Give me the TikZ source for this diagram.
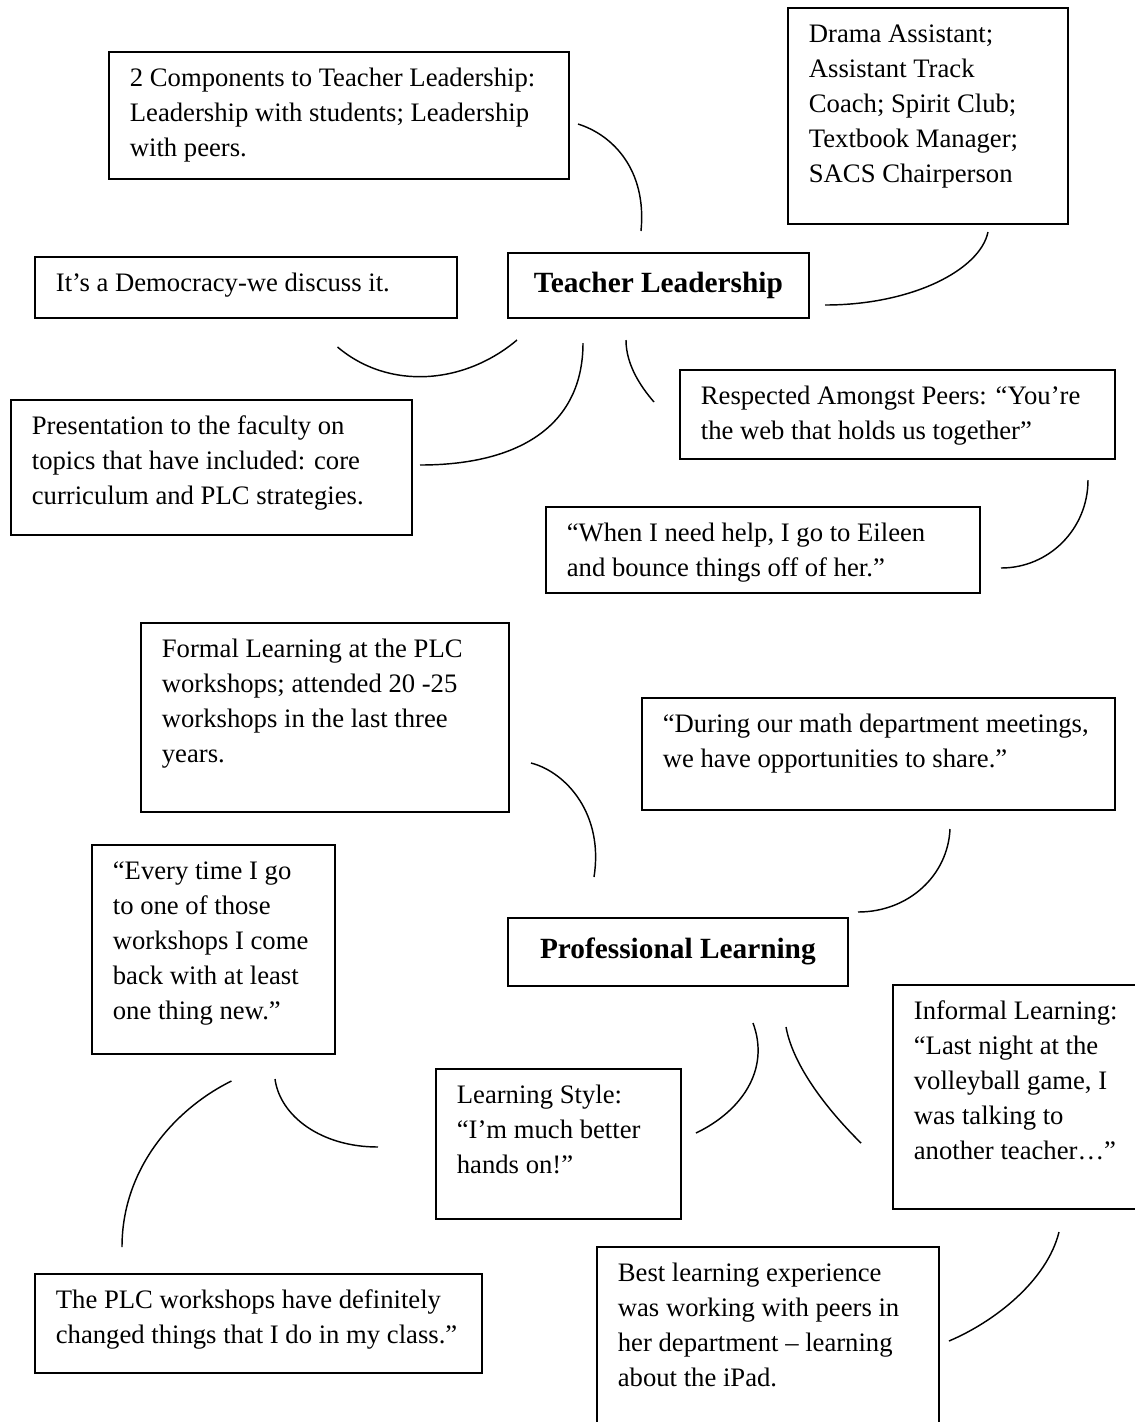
\documentclass[tikz,border=0pt]{standalone}
\usepackage{fontspec}
\setmainfont{Liberation Serif}

% one pixel of the scan
\newdimen\pxu
\pxu=0.45pt
% text set at the top left of a framed box: width, height (pixels), text
\newcommand\boxtext[3]{%
  \parbox[c][#2\pxu][t]{\dimexpr#1\pxu+20\pxu\relax}{\raggedright\fontsize{12}{15.75}\selectfont\strut#3}%
  \kern-20\pxu}

\begin{document}
\begin{tikzpicture}[
    x=0.45pt, y=-0.45pt, % one unit = one pixel, y runs downwards
    textbox/.style={draw, line width=0.8pt, anchor=north west, inner xsep=9.45pt, inner ysep=4.5pt}, % note boxes
    titlebox/.style={draw, line width=0.8pt, anchor=north west, inner sep=0pt,
        font=\fontsize{13.2}{15}\selectfont\bfseries}, % the two topics
    arcline/.style={line width=0.65pt} % curved links
]

    % Page size
    \useasboundingbox (0,0) rectangle (1135,1422);
    \clip (0,0) rectangle (1135,1422);

    % Teacher Leadership
    \node[titlebox, minimum width=135.45pt, minimum height=29.25pt] (tl) at (507,252) {Teacher Leadership};

    \node[textbox] (comp) at (108,51) {\boxtext{418}{107}{2 Components to Teacher Leadership:\\Leadership with students; Leadership\\with peers.}};
    \node[textbox] (drama) at (787,7) {\boxtext{238}{196}{Drama Assistant;\\Assistant Track\\Coach; Spirit Club;\\Textbook Manager;\\SACS Chairperson}};
    \node[textbox] (democ) at (34,256) {\boxtext{380}{41}{It’s a Democracy-we discuss it.}};
    \node[textbox] (pres) at (10,399) {\boxtext{359}{115}{Presentation to the faculty on\\topics that have included: core\\curriculum and PLC strategies.}};
    \node[textbox] (resp) at (679,369) {\boxtext{393}{69}{Respected Amongst Peers: “You’re\\the web that holds us together”}};
    \node[textbox] (help) at (545,506) {\boxtext{392}{66}{“When I need help, I go to Eileen\\and bounce things off of her.”}};

    % Professional Learning
    \node[titlebox, minimum width=153pt, minimum height=30.6pt] (pl) at (507,917) {Professional Learning};

    \node[textbox] (formal) at (140,622) {\boxtext{326}{169}{Formal Learning at the PLC\\workshops; attended 20 -25\\workshops in the last three\\years.}};
    \node[textbox] (meet) at (641,697) {\boxtext{431}{92}{“During our math department meetings,\\we have opportunities to share.”}};
    \node[textbox] (every) at (91,844) {\boxtext{201}{189}{“Every time I go\\to one of those\\workshops I come\\back with at least\\one thing new.”}};
    \node[textbox] (informal) at (892,984) {\boxtext{216}{204}{Informal Learning:\\“Last night at the\\volleyball game, I\\was talking to\\another teacher…”}};
    \node[textbox] (lstyle) at (435,1068) {\boxtext{203}{130}{Learning Style:\\“I’m much better\\hands on!”}};
    \node[textbox] (plc) at (34,1273) {\boxtext{405}{79}{The PLC workshops have definitely\\changed things that I do in my class.”}};
    \node[textbox] (best) at (596,1246) {\boxtext{300}{184}{Best learning experience\\was working with peers in\\her department – learning\\about the iPad.}};

    % Arc end points
    \coordinate (compA) at (578,124);      \coordinate (compB) at (641,231);
    \coordinate (dramaA) at (988,232);     \coordinate (dramaB) at (825,305);
    \coordinate (democA) at (337.5,347);   \coordinate (democB) at (517,340);
    \coordinate (presA) at (583,343);      \coordinate (presB) at (420,465);
    \coordinate (respA) at (626,340);      \coordinate (respB) at (654,402);
    \coordinate (helpA) at (1088,480);     \coordinate (helpB) at (1001,568);
    \coordinate (formalA) at (531,763);    \coordinate (formalB) at (594,877);
    \coordinate (meetA) at (950,829);      \coordinate (meetB) at (858,912);
    \coordinate (plcA) at (231.5,1081);    \coordinate (plcB) at (122,1247);
    \coordinate (everyA) at (275,1079);    \coordinate (everyB) at (378,1147);
    \coordinate (lstyleA) at (753,1023);   \coordinate (lstyleB) at (696,1133);
    \coordinate (informalA) at (786,1027); \coordinate (informalB) at (861,1143);
    \coordinate (bestA) at (1059,1232);    \coordinate (bestB) at (949,1341);

    % Curved links
    \draw[arcline] (compA) .. controls +(35,11) and +(6,-61) .. (compB);
    \draw[arcline] (dramaA) .. controls +(-8,38) and +(87,0) .. (dramaB);
    \draw[arcline] (democA) .. controls +(52,44) and +(-52,44) .. (democB);
    \draw[arcline] (presA) .. controls +(0,82) and +(100,0) .. (presB);
    \draw[arcline] (respA) .. controls +(0,25) and +(-13,-15) .. (respB);
    \draw[arcline] (helpA) .. controls +(0,49) and +(48,0) .. (helpB);
    \draw[arcline] (formalA) .. controls +(35,9) and +(10,-63) .. (formalB);
    \draw[arcline] (meetA) .. controls +(-2,46) and +(51,0) .. (meetB);
    \draw[arcline] (plcA) .. controls +(-55,27) and +(0,-80) .. (plcB);
    \draw[arcline] (everyA) .. controls +(5,37) and +(-57,0) .. (everyB);
    \draw[arcline] (lstyleA) .. controls +(17.5,47) and +(45,-21.5) .. (lstyleB);
    \draw[arcline] (informalA) .. controls +(8,44) and +(-25,-24.5) .. (informalB);
    \draw[arcline] (bestA) .. controls +(-12,48.5) and +(46,-19.5) .. (bestB);

\end{tikzpicture}
\end{document}
